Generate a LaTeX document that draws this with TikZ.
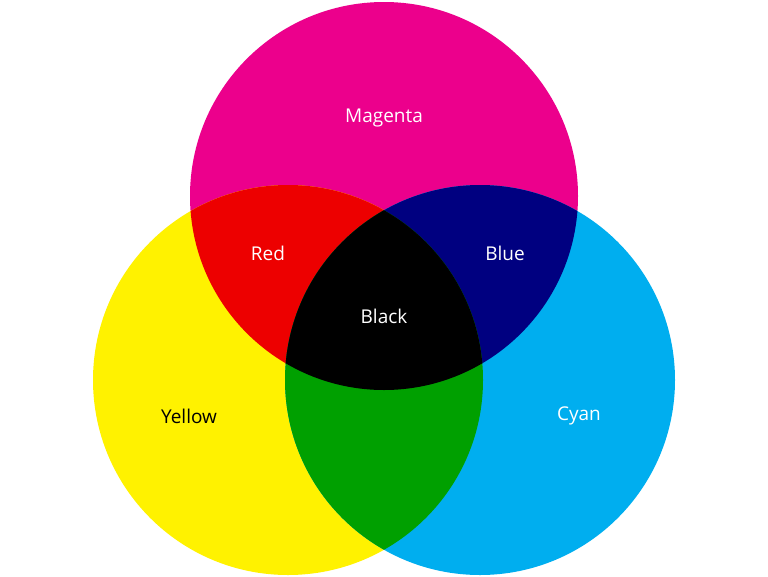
\documentclass[tikz,border=0pt]{standalone}
\usepackage{fontspec}
\setmainfont{Open Sans}
\definecolor{cM}{HTML}{EC008C}
\definecolor{cY}{HTML}{FFF200}
\definecolor{cC}{HTML}{00AEEF}
\definecolor{cR}{HTML}{ED0000}
\definecolor{cB}{HTML}{000080}
\definecolor{cG}{HTML}{00A000}
\begin{document}
\begin{tikzpicture}[x=1pt,y=-1pt,lbl/.style={font=\fontsize{19}{22}\selectfont,text=white}]
\useasboundingbox (0,0) rectangle (768,576);
\fill[white] (0,0) rectangle (768,576);
\def\M{(384,196) circle (194)}
\def\Y{(288,380) circle (195)}
\def\C{(480,380) circle (195)}
\fill[cM] \M; \fill[cY] \Y; \fill[cC] \C;
\begin{scope}\clip \M; \fill[cR] \Y; \fill[cB] \C; \end{scope}
\begin{scope}\clip \Y; \fill[cG] \C; \end{scope}
\begin{scope}\clip \M; \clip \Y; \fill[black] \C; \end{scope}
\node[lbl] (m) at (384,118) {Magenta};
\node[lbl] (r) at (268,253) {Red};
\node[lbl] (b) at (505,253) {Blue};
\node[lbl] (k) at (384,316) {Black};
\node[lbl,text=black] (y) at (189,416) {Yellow};
\node[lbl] (c) at (579,416) {Cyan};
\end{tikzpicture}
\end{document}
